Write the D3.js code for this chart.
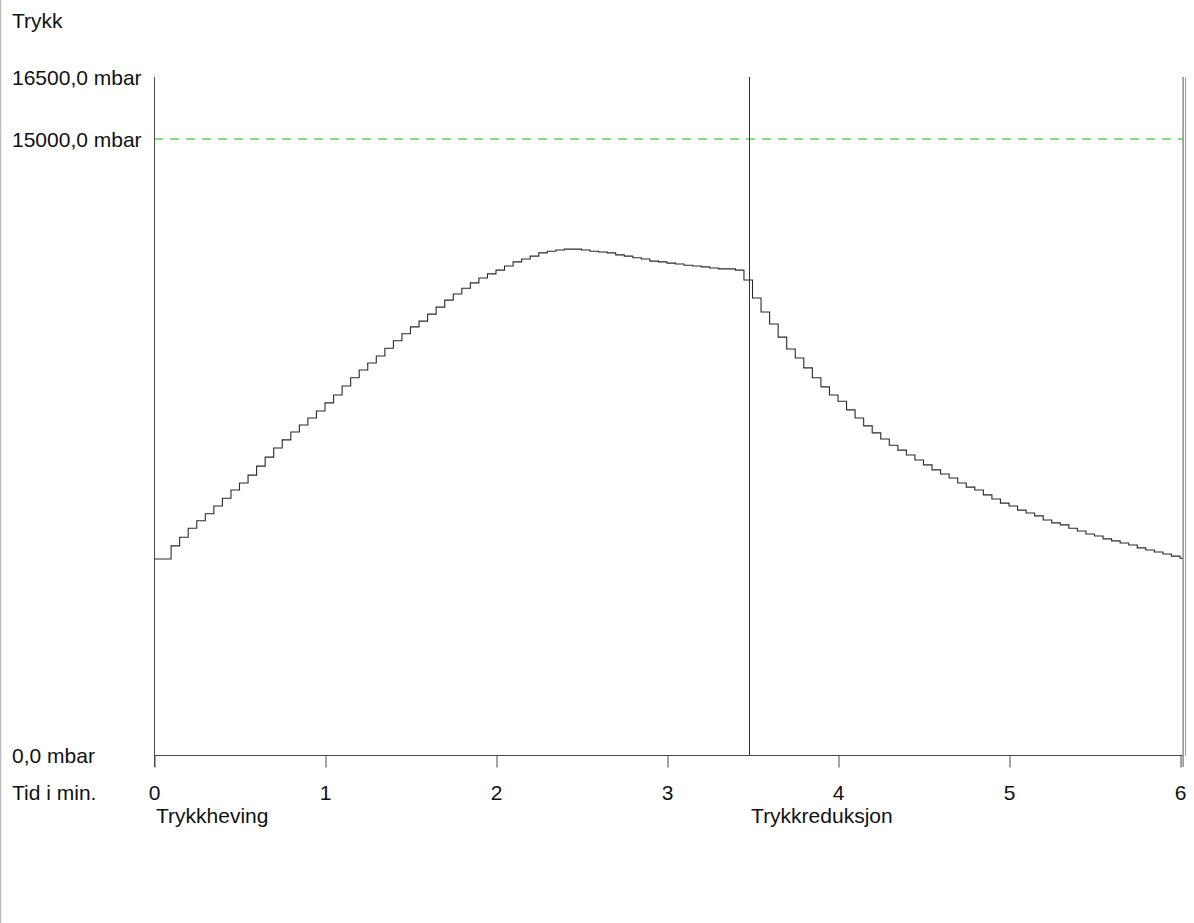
<!DOCTYPE html>
<html>
<head>
<meta charset="utf-8">
<script src="https://cdn.jsdelivr.net/npm/d3@7/dist/d3.min.js"></script>
<style>
  html, body { margin: 0; padding: 0; background: #fff; }
  svg { display: block; }
  text { font-family: "Liberation Sans", Arial, sans-serif; font-size: 21px; fill: #111; }
</style>
</head>
<body>
<svg id="chart" width="1194" height="923"></svg>
<script>
// ---- data ----
const yAxisTitle = "Trykk";
const xAxisTitle = "Tid i min.";
const yTickValues = [0, 15000, 16500];
const yTickLabels = ["0,0 mbar", "15000,0 mbar", "16500,0 mbar"];
const xTickValues = [0, 1, 2, 3, 4, 5, 6];
const limitValue = 15000;           // green dashed limit
const phaseNames = ["Trykkheving", "Trykkreduksjon"];
const phaseStarts = [0, 3.48];      // minutes
const endMarkers = [6.015, 6.03];   // right-hand end lines (minutes)
const timeMin = [
  0.00,0.05,0.10,0.15,0.20,0.25,0.30,0.35,0.40,0.45,
  0.50,0.55,0.60,0.65,0.70,0.75,0.80,0.85,0.90,0.95,
  1.00,1.05,1.10,1.15,1.20,1.25,1.30,1.35,1.40,1.45,
  1.50,1.55,1.60,1.65,1.70,1.75,1.80,1.85,1.90,1.95,
  2.00,2.05,2.10,2.15,2.20,2.25,2.30,2.35,2.40,2.45,
  2.50,2.55,2.60,2.65,2.70,2.75,2.80,2.85,2.90,2.95,
  3.00,3.05,3.10,3.15,3.20,3.25,3.30,3.35,3.40,3.45,
  3.50,3.55,3.60,3.65,3.70,3.75,3.80,3.85,3.90,3.95,
  4.00,4.05,4.10,4.15,4.20,4.25,4.30,4.35,4.40,4.45,
  4.50,4.55,4.60,4.65,4.70,4.75,4.80,4.85,4.90,4.95,
  5.00,5.05,5.10,5.15,5.20,5.25,5.30,5.35,5.40,5.45,
  5.50,5.55,5.60,5.65,5.70,5.75,5.80,5.85,5.90,5.95,
  6.00,6.012
];
const pressureMbar = [
  4770,4770,5090,5300,5520,5700,5870,6060,6250,6450,
  6620,6810,7030,7250,7470,7670,7860,8030,8200,8370,
  8570,8760,8980,9180,9370,9540,9710,9900,10080,10250,
  10420,10560,10730,10900,11070,11220,11360,11490,11610,11710,
  11800,11900,12000,12070,12140,12220,12260,12290,12310,12310,
  12290,12260,12240,12220,12170,12140,12100,12070,12020,12000,
  11970,11950,11920,11900,11880,11850,11830,11830,11800,11560,
  11120,10780,10490,10170,9880,9660,9420,9180,8960,8760,
  8610,8400,8200,8010,7840,7690,7540,7420,7300,7180,
  7060,6940,6840,6740,6620,6520,6450,6330,6230,6130,
  6060,5960,5890,5820,5720,5650,5600,5520,5450,5380,
  5330,5260,5210,5160,5110,5040,4990,4940,4890,4840,
  4790,4770
];

// ---- layout ----
const svg = d3.select("#chart");
const x = d3.scaleLinear().domain([0, 6]).range([154, 1180]);
const y = d3.scaleLinear().domain([0, 16500]).range([755, 77]);
const axisColor = "#4a4a4a";

// left page border
svg.append("line").attr("x1", 0.5).attr("x2", 0.5).attr("y1", 0).attr("y2", 923)
  .attr("stroke", "#bdbdbd").attr("stroke-width", 1.5);

// y-axis title
svg.append("text").attr("x", 12).attr("y", 28).text(yAxisTitle);

// y tick labels
yTickValues.forEach((v, i) => {
  svg.append("text").attr("x", 12).attr("y", y(v) + 8).text(yTickLabels[i]);
});

// limit line
svg.append("line")
  .attr("x1", x(0)).attr("x2", x(endMarkers[0]))
  .attr("y1", Math.round(y(limitValue))).attr("y2", Math.round(y(limitValue)))
  .style("stroke", "#5ad65a").style("stroke-width", "1.6px")
  .style("stroke-dasharray", "9,7");

// x axis
const xAxis = d3.axisBottom(x).tickValues(xTickValues).tickSize(12).tickFormat("");
const gx = svg.append("g").attr("transform", `translate(0.5,${y(0) + 0.5})`).call(xAxis);
gx.select(".domain").remove();
gx.selectAll(".tick line").attr("stroke", axisColor);
svg.append("line").attr("x1", x(0)).attr("x2", x(endMarkers[0]))
  .attr("y1", y(0) + 0.5).attr("y2", y(0) + 0.5).attr("stroke", axisColor);
// x tick labels
xTickValues.forEach(v => {
  svg.append("text").attr("x", x(v) + 0.5).attr("y", 800)
    .attr("text-anchor", "middle").text(String(v));
});
svg.append("text").attr("x", 12).attr("y", 800).text(xAxisTitle);

// y axis line
svg.append("line").attr("x1", x(0) + 0.5).attr("x2", x(0) + 0.5)
  .attr("y1", y(16500)).attr("y2", y(0) + 12).attr("stroke", axisColor);

// phase lines & labels
phaseStarts.forEach((t, i) => {
  if (t > 0) {
    svg.append("line").attr("x1", Math.round(x(t)) + 0.5).attr("x2", Math.round(x(t)) + 0.5)
      .attr("y1", y(16500)).attr("y2", y(0)).attr("stroke", "#333");
  }
  svg.append("text").attr("x", x(t) + 2).attr("y", 823).text(phaseNames[i]);
});

// end markers
svg.append("line").attr("x1", x(endMarkers[0]) + 0.5).attr("x2", x(endMarkers[0]) + 0.5)
  .attr("y1", y(16500)).attr("y2", y(0) + 12).attr("stroke", "#555");
svg.append("line").attr("x1", x(endMarkers[1]) + 0.5).attr("x2", x(endMarkers[1]) + 0.5)
  .attr("y1", y(16500)).attr("y2", y(0) + 1).attr("stroke", "#9a9a9a");

// pressure curve (step)
const pts = timeMin.map((t, i) => [t, pressureMbar[i]]);
const line = d3.line().x(d => x(d[0])).y(d => y(d[1])).curve(d3.curveStepAfter);
svg.append("path").datum(pts).attr("d", line)
  .attr("fill", "none").attr("stroke", "#2a2a2a").attr("stroke-width", 1.1);
</script>
</body>
</html>
